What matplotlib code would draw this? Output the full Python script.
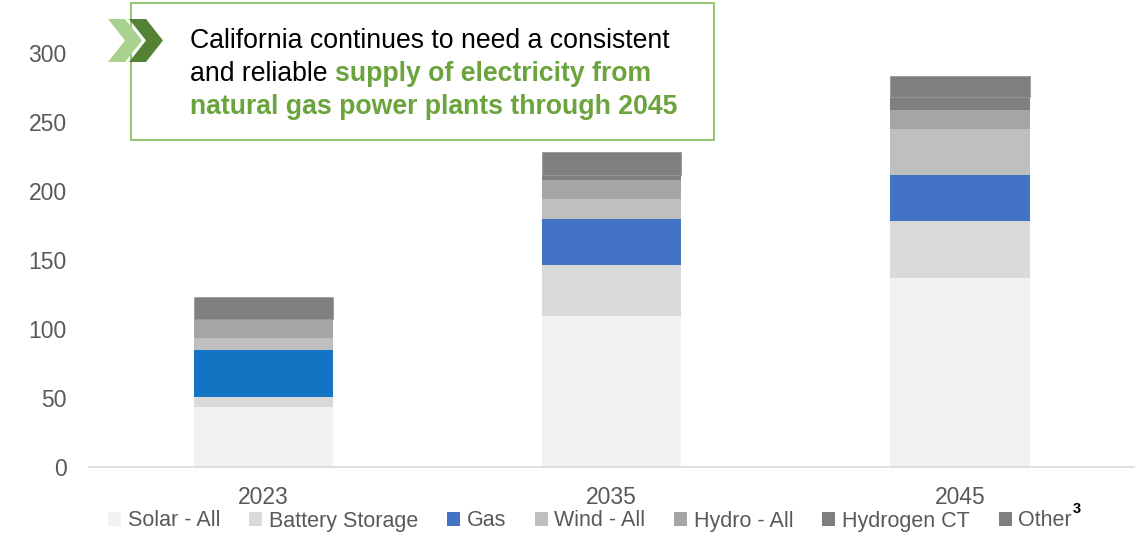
import matplotlib
matplotlib.use("Agg")
from matplotlib import pyplot as plt
from matplotlib.patches import Rectangle, Polygon, Patch
import numpy as np

years = ["2023", "2035", "2045"]
series = ["Solar - All", "Battery Storage", "Gas", "Wind - All",
          "Hydro - All", "Hydrogen CT", "Other"]

solar = [43.5, 109.6, 136.7]
battery = [7.2, 36.8, 41.8]
gas = [33.8, 33.0, 33.0]
wind = [9.0, 14.7, 33.4]
hydro = [14.0, 13.8, 14.0]
hydrogen = [0.0, 4.0, 9.0]
other = [15.7, 16.0, 15.3]

colors = ["#f2f2f2", "#d9d9d9", "#4472c4", "#bfbfbf", "#a5a5a5", "#7f7f7f", "#7f7f7f"]
gas_bar_colors = ["#1473c3", "#4472c4", "#4472c4"]

plt.rcParams["font.family"] = ["Liberation Sans", "DejaVu Sans"]

W, H = 1140, 542
fig = plt.figure(figsize=(W / 100, H / 100), dpi=100)

# axes in pixel terms: x from 89 to 1134, y from 467 (0) to 53 (300)
ax = fig.add_axes([89 / W, (H - 467) / H, (1134 - 89) / W, (467 - 53) / H])

x = np.arange(len(years))
bottom = np.zeros(len(years))
for name, vals, col in zip(series, [solar, battery, gas, wind, hydro, hydrogen, other], colors):
    c = gas_bar_colors if name == "Gas" else col
    ec = "#999999" if name == "Other" else "none"
    ax.bar(x, vals, 0.40, bottom=bottom, color=c, edgecolor=ec, linewidth=0.6, zorder=2)
    bottom += np.array(vals)

ax.set_xlim(-0.5, 2.5)
ax.set_ylim(0, 300)
ax.set_yticks(range(0, 301, 50))
ax.set_xticks(x)
ax.set_xticklabels(years)
ax.tick_params(axis="y", length=0, pad=16, labelsize=16.5, labelcolor="#595959")
ax.tick_params(axis="x", length=0, pad=14, labelsize=16.5, labelcolor="#595959")
for s in ["top", "right", "left"]:
    ax.spines[s].set_visible(False)
ax.spines["bottom"].set_color("#d9d9d9")
ax.spines["bottom"].set_linewidth(1.2)

# legend row under the axis
handles = [Patch(facecolor=c, edgecolor="none") for c in colors]
leg = fig.legend(handles, series, loc="center", bbox_to_anchor=(590 / W, 1 - 521 / H),
                 ncol=7, frameon=False, handlelength=0.6, handleheight=0.6,
                 handletextpad=0.3, columnspacing=1.35, prop={"size": 15.5})
for t in leg.get_texts():
    t.set_color("#595959")
fig.text(1073 / W, 1 - 509 / H, "3", fontsize=10.5, fontweight="bold", color="black",
         ha="left", va="center")

# headline box
fig.add_artist(Rectangle((131 / W, 1 - 140 / H), 583 / W, 137 / H,
                         transform=fig.transFigure, facecolor="white",
                         edgecolor="#8cc065", linewidth=1.3, zorder=3))


def chevron(x0, top, bot, arm, depth, color):
    mid = (top + bot) / 2
    pts = [(x0, top), (x0 + arm, top), (x0 + arm + depth, mid),
           (x0 + arm, bot), (x0, bot), (x0 + depth, mid)]
    pts = [(px / W, 1 - py / H) for px, py in pts]
    fig.add_artist(Polygon(pts, closed=True, transform=fig.transFigure,
                           facecolor=color, edgecolor="none", zorder=4))


chevron(108, 19, 62, 17, 17, "#a9d18e")
chevron(129, 19, 62, 17, 17, "#548235")

fs = 19.2
green = "#6ba33c"
fig.text(190 / W, 1 - 41 / H, "California continues to need a consistent",
         fontsize=fs, color="black", va="center", zorder=5)
t2 = fig.text(190 / W, 1 - 74 / H, "and reliable ", fontsize=fs,
              color="black", va="center", zorder=5)
fig.canvas.draw()
x_end = t2.get_window_extent().x1 / W
fig.text(x_end, 1 - 74 / H, "supply of electricity from", fontsize=fs, fontweight="bold",
         color=green, va="center", zorder=5)
fig.text(190 / W, 1 - 107 / H, "natural gas power plants through 2045",
         fontsize=fs, fontweight="bold", color=green, va="center", zorder=5)

fig.savefig("out.png", dpi=100)
